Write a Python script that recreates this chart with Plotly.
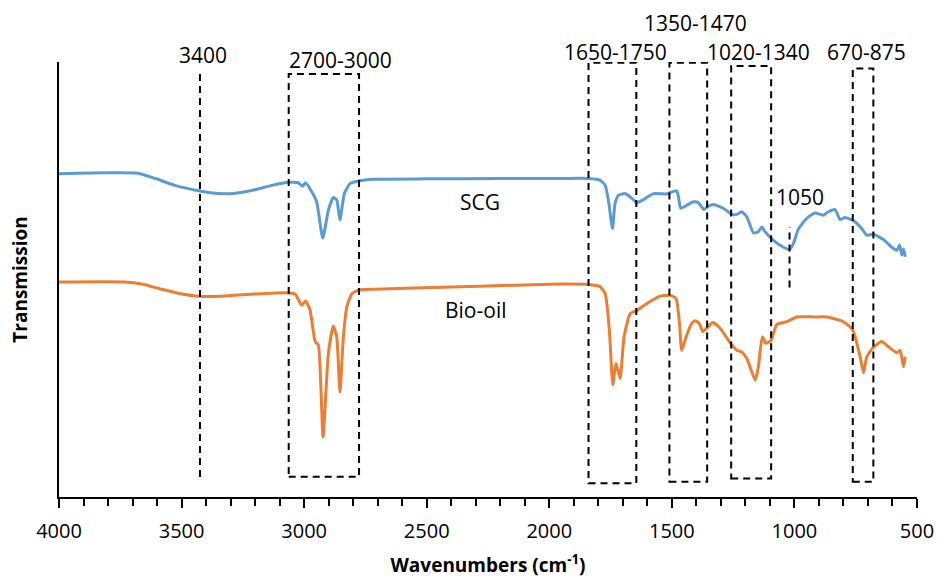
import plotly.graph_objects as go

# FTIR spectra (wavenumber in cm-1, transmission in arbitrary units, offset)
scg_wn = [4000, 3800, 3678, 3608, 3527, 3425, 3350, 3282, 3200, 3132, 3064, 3024, 3007,
          2994, 2969, 2949, 2924, 2901, 2881, 2867, 2854, 2836, 2813, 2779, 2711, 2500,
          2200, 1956, 1840, 1793, 1772, 1759, 1742, 1732, 1718, 1691, 1663, 1643, 1616,
          1575, 1521, 1500, 1480, 1473, 1464, 1439, 1412, 1392, 1369, 1351, 1330, 1290,
          1256, 1235, 1215, 1194, 1167, 1147, 1133, 1120, 1086, 1045, 1020, 1004, 983,
          949, 916, 882, 861, 834, 814, 793, 759, 725, 705, 678, 637, 603, 582, 571,
          562, 555, 548]
scg_t = [74.7, 74.9, 74.8, 73.6, 72.0, 70.7, 70.1, 70.2, 71.0, 72.0, 72.7, 72.6, 71.8,
         72.6, 70.5, 68.2, 59.8, 66.3, 69.2, 68.6, 64.0, 70.1, 72.4, 73.0, 73.4, 73.5,
         73.6, 73.6, 73.6, 73.2, 72.0, 68.6, 62.0, 67.8, 69.7, 70.1, 69.0, 68.0, 68.7,
         70.1, 70.0, 70.5, 70.7, 69.3, 66.7, 67.4, 68.2, 68.0, 66.4, 67.2, 67.6, 66.7,
         65.3, 65.3, 65.9, 64.7, 61.0, 61.3, 62.4, 61.3, 59.3, 57.7, 57.2, 58.6, 62.0,
         64.4, 65.6, 65.1, 65.9, 66.4, 64.1, 64.6, 63.8, 62.0, 60.5, 60.7, 59.5, 57.7,
         57.0, 58.2, 55.9, 57.3, 55.5]

bio_wn = [4000, 3731, 3663, 3581, 3499, 3432, 3336, 3200, 3078, 3037, 3010, 2994, 2976,
          2955, 2942, 2923, 2901, 2881, 2867, 2854, 2840, 2826, 2806, 2779, 2711, 2400,
          2100, 1956, 1840, 1793, 1772, 1755, 1741, 1728, 1711, 1695, 1670, 1646, 1602,
          1548, 1507, 1483, 1469, 1460, 1442, 1419, 1405, 1388, 1374, 1358, 1333, 1303,
          1262, 1235, 1215, 1194, 1160, 1147, 1131, 1116, 1096, 1072, 1031, 990, 922,
          868, 800, 762, 732, 718, 705, 678, 644, 616, 582, 569, 555, 548]
bio_t = [49.7, 49.7, 49.2, 48.0, 46.9, 46.4, 46.4, 46.9, 47.2, 46.9, 44.3, 45.3, 43.2,
         35.9, 35.1, 13.9, 33.2, 39.5, 37.0, 24.3, 37.0, 43.9, 46.9, 47.8, 48.0, 48.5,
         49.0, 49.2, 49.1, 48.6, 47.0, 38.6, 25.9, 30.9, 27.4, 37.0, 42.4, 43.0, 44.7,
         46.4, 46.6, 45.9, 40.1, 33.9, 37.0, 40.1, 40.7, 40.1, 38.2, 39.0, 40.3, 39.0,
         35.6, 33.9, 33.5, 32.0, 27.0, 30.1, 37.0, 35.5, 36.1, 39.9, 40.5, 41.6, 41.6,
         41.6, 40.5, 38.6, 32.4, 28.7, 32.4, 34.6, 35.9, 34.7, 33.3, 33.9, 30.1, 32.4]

# Band regions highlighted with dashed boxes
band_labels = ["2700-3000", "1650-1750", "1350-1470", "1020-1340", "670-875"]
band_hi = [3063, 1840, 1510, 1258, 762]
band_lo = [2776, 1645, 1356, 1095, 678]
band_bottom = [4.7, 3.2, 3.5, 4.3, 3.5]
band_top = [97.7, 100.3, 100.3, 99.6, 99.0]

# Single-line markers
marker_labels = ["3400", "1050"]
marker_wn = [3425, 1020]
marker_y0 = [4.6, 48.4]
marker_y1 = [98.4, 62.4]

x_ticks = [4000, 3500, 3000, 2500, 2000, 1500, 1000, 500]

FONT = "Open Sans"
BLUE = "#5B9BD5"
ORANGE = "#ED7D31"

fig = go.Figure()
fig.add_trace(go.Scatter(x=scg_wn, y=scg_t, mode="lines", name="SCG",
                         line=dict(color=BLUE, width=3, shape="spline", smoothing=0.5)))
fig.add_trace(go.Scatter(x=bio_wn, y=bio_t, mode="lines", name="Bio-oil",
                         line=dict(color=ORANGE, width=3, shape="spline", smoothing=0.5)))

dash_line = dict(color="black", width=2, dash="7px,5px")
shapes = []
for hi, lo, b, t in zip(band_hi, band_lo, band_bottom, band_top):
    shapes.append(dict(type="rect", xref="x", yref="y", x0=hi, x1=lo, y0=b, y1=t,
                       line=dash_line, fillcolor="rgba(0,0,0,0)", layer="above"))
for wn, y0, y1 in zip(marker_wn, marker_y0, marker_y1):
    shapes.append(dict(type="line", xref="x", yref="y", x0=wn, x1=wn, y0=y0, y1=y1,
                       line=dash_line, layer="above"))

# Region labels: x in wavenumbers, y as a fraction of the plot height
lab_font = dict(family=FONT, size=21, color="black")
label_pos = {
    "3400": (3412, 1.016),
    "2700-3000": (2853, 1.005),
    "1650-1750": (1731, 1.024),
    "1350-1470": (1402, 1.089),
    "1020-1340": (1148, 1.023),
    "670-875": (705, 1.023),
    "1050": (977, 0.690),
}
annotations = []
for text, (x, y) in label_pos.items():
    annotations.append(dict(x=x, y=y, xref="x", yref="paper", text=text, showarrow=False,
                            font=lab_font, xanchor="center", yanchor="middle"))
annotations.append(dict(x=2282, y=68.2, xref="x", yref="y", text="SCG", showarrow=False,
                        font=dict(family=FONT, size=21, color="black")))
annotations.append(dict(x=2299, y=43.2, xref="x", yref="y", text="Bio-oil", showarrow=False,
                        font=dict(family=FONT, size=21, color="black")))

fig.update_layout(
    width=938, height=578,
    margin=dict(l=59, r=21, t=62, b=81),
    paper_bgcolor="white", plot_bgcolor="white",
    showlegend=False,
    shapes=shapes,
    annotations=annotations,
    font=dict(family=FONT, color="black"),
)
fig.update_xaxes(
    range=[4000, 500], tickvals=x_ticks, ticktext=[str(v) for v in x_ticks],
    showline=True, linecolor="black", linewidth=2.2, mirror=False,
    ticks="outside", ticklen=9, tickwidth=2, tickcolor="black",
    minor=dict(dtick=100, ticks="outside", ticklen=7, tickwidth=2, tickcolor="black"),
    showgrid=False, zeroline=False, ticklabelstandoff=6, automargin=False,
    tickfont=dict(family=FONT, size=20, color="black"),
    title=dict(text="<b>Wavenumbers (cm<sup>-1</sup>)</b>",
               font=dict(family=FONT, size=19, color="black"), standoff=26),
)
fig.update_yaxes(
    range=[0, 100.5], showline=True, linecolor="black", linewidth=2.2,
    showticklabels=False, ticks="", showgrid=False, zeroline=False, automargin=False,
    title=dict(text="<b>Transmission</b>", font=dict(family=FONT, size=19, color="black"),
               standoff=24),
)

fig.write_html("out.html")
